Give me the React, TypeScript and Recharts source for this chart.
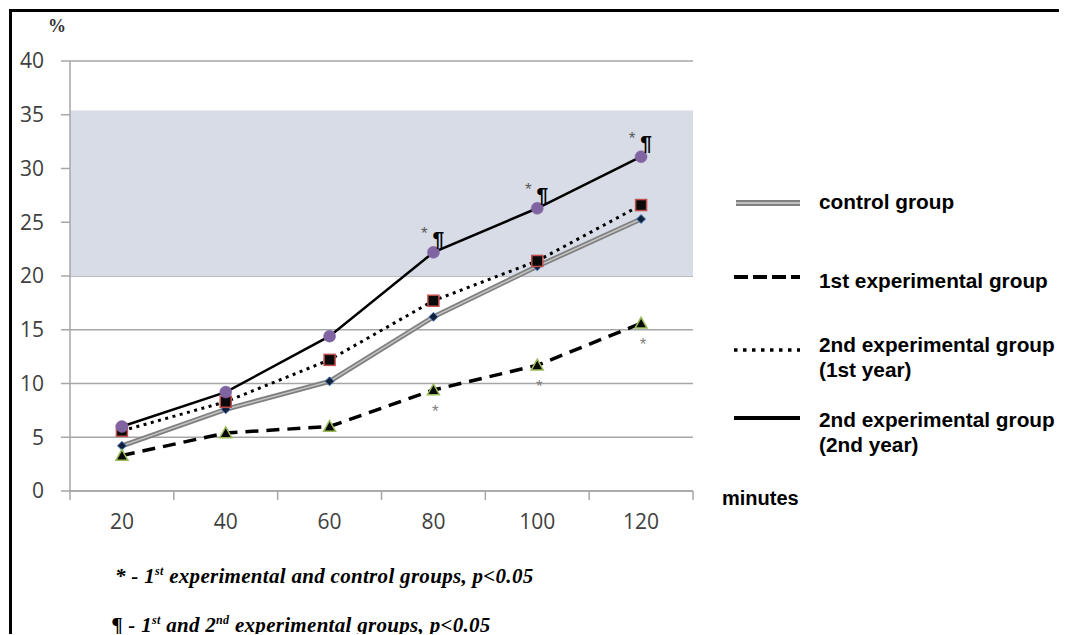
import React from 'react';
import {
  LineChart,
  Line,
  XAxis,
  YAxis,
  CartesianGrid,
  ReferenceArea,
  LabelList,
} from 'recharts';

// ---------- data ----------
const minutes = ['20', '40', '60', '80', '100', '120'];
const controlGroup = [4.2, 7.6, 10.2, 16.2, 20.9, 25.3];
const firstExpGroup = [3.3, 5.4, 6.0, 9.4, 11.7, 15.6];
const secondExpYear1 = [5.6, 8.3, 12.2, 17.7, 21.4, 26.6];
const secondExpYear2 = [6.0, 9.2, 14.4, 22.2, 26.3, 31.1];
// significance marks
const sigFirstVsControl = ['', '', '', '*', '*', '*'];
const sigFirstVsSecond = ['', '', '', '¶', '¶', '¶'];
const yTicks = [0, 5, 10, 15, 20, 25, 30, 35, 40];
const bandFrom = 20;
const bandTo = 35.4;

const legendLabels = [
  ['control group'],
  ['1st experimental group'],
  ['2nd experimental group', '(1st year)'],
  ['2nd experimental group', '(2nd year)'],
];

const chartData = minutes.map((m, i) => ({
  minute: m,
  control: controlGroup[i],
  exp1: firstExpGroup[i],
  exp2y1: secondExpYear1[i],
  exp2y2: secondExpYear2[i],
  sigA: sigFirstVsControl[i],
  sigB: sigFirstVsSecond[i],
}));

// ---------- styles ----------
const GRID = '#a6a6a6';
const TICK_FONT = "'Open Sans', 'DejaVu Sans', sans-serif";
const LEGEND_FONT = "'Liberation Sans', Arial, sans-serif";
const SERIF = "'Liberation Serif', 'Times New Roman', serif";

// ---------- markers ----------
const Diamond = (p: any) => {
  const { cx, cy } = p;
  if (cx == null || cy == null) return null;
  const r = 4.5;
  return (
    <polygon
      points={`${cx},${cy - r} ${cx + r},${cy} ${cx},${cy + r} ${cx - r},${cy}`}
      fill="#14213d"
      stroke="#4f81bd"
      strokeWidth={1}
    />
  );
};

const Square = (p: any) => {
  const { cx, cy } = p;
  if (cx == null || cy == null) return null;
  const s = 11;
  return (
    <rect
      x={cx - s / 2}
      y={cy - s / 2}
      width={s}
      height={s}
      fill="#0a0a0a"
      stroke="#c0504d"
      strokeWidth={1.5}
    />
  );
};

const Circle = (p: any) => {
  const { cx, cy } = p;
  if (cx == null || cy == null) return null;
  return <circle cx={cx} cy={cy} r={6} fill="#8064a2" stroke="#8064a2" strokeWidth={0.5} />;
};

const Triangle = (p: any) => {
  const { cx, cy } = p;
  if (cx == null || cy == null) return null;
  const w = 6, h = 6;
  return (
    <polygon
      points={`${cx},${cy - h} ${cx + w},${cy + h * 0.8} ${cx - w},${cy + h * 0.8}`}
      fill="#0a0a0a"
      stroke="#9bbb59"
      strokeWidth={1.5}
    />
  );
};

// ---------- ticks ----------
const XTick = (props: any) => {
  const { x, y, payload, index, visibleTicksCount } = props;
  const off = payload?.offset ?? 0;
  const y0 = y - 23;
  const last = index === (visibleTicksCount ?? minutes.length) - 1;
  return (
    <g>
      <line x1={x - off} x2={x - off} y1={y0} y2={y0 + 9} stroke={GRID} strokeWidth={1.5} />
      {last && (
        <line x1={x + off} x2={x + off} y1={y0} y2={y0 + 9} stroke={GRID} strokeWidth={1.5} />
      )}
      <text
        x={x}
        y={y}
        dy="0.71em"
        textAnchor="middle"
        fill="#404040"
        fontSize={21}
        fontFamily={TICK_FONT}
      >
        {payload.value}
      </text>
    </g>
  );
};

const SigAbove = (props: any) => {
  const { x, y, value } = props;
  if (!value) return null;
  return (
    <g>
      <text x={x - 9} y={y - 19} dy="0.35em" textAnchor="middle" fill="#595959" fontSize={17} fontFamily={LEGEND_FONT}>
        *
      </text>
      <text x={x + 5} y={y - 14} dy="0.35em" textAnchor="middle" fill="#000" fontSize={21} fontWeight="bold" fontFamily={LEGEND_FONT}>
        {value}
      </text>
    </g>
  );
};

const SigBelow = (props: any) => {
  const { x, y, value } = props;
  if (!value) return null;
  return (
    <text x={x + 2} y={y + 21} dy="0.35em" textAnchor="middle" fill="#7f7f7f" fontSize={17} fontFamily={LEGEND_FONT}>
      {value}
    </text>
  );
};

const MinutesLabel = (props: any) => {
  const vb = props.viewBox || {};
  return (
    <text
      x={vb.x + vb.width + 29}
      y={vb.y + 7}
      dy="0.35em"
      textAnchor="start"
      fontSize={20}
      fontWeight="bold"
      fontFamily={LEGEND_FONT}
      fill="#000"
    >
      minutes
    </text>
  );
};

// ---------- legend ----------
const LegendSample = ({ kind }: { kind: number }) => (
  <svg width={68} height={12} style={{ display: 'block' }}>
    {kind === 0 && (
      <>
        <line x1={2} x2={66} y1={6} y2={6} stroke="#808080" strokeWidth={6} />
        <line x1={2} x2={66} y1={6} y2={6} stroke="#d4d4d4" strokeWidth={1.5} />
      </>
    )}
    {kind === 1 && (
      <line x1={0} x2={66} y1={6} y2={6} stroke="#000" strokeWidth={4} strokeDasharray="14 5" />
    )}
    {kind === 2 && (
      <line x1={0} x2={66} y1={6} y2={6} stroke="#000" strokeWidth={3.5} strokeDasharray="3.5 5.5" />
    )}
    {kind === 3 && <line x1={0} x2={66} y1={6} y2={6} stroke="#000" strokeWidth={4} />}
  </svg>
);

const legendRowTop = [181, 260, 324, 399];
const legendLineOffset = [8, 3, 12, 5];

const CustomLegend = () => (
  <>
    {legendLabels.map((lines, i) => (
      <div
        key={i}
        style={{ position: 'absolute', left: 0, top: legendRowTop[i], width: 340 }}
      >
        <div style={{ position: 'absolute', left: 726, top: legendLineOffset[i] }}>
          <LegendSample kind={i} />
        </div>
        <div
          style={{
            position: 'absolute',
            left: 811,
            top: 0,
            fontFamily: LEGEND_FONT,
            fontWeight: 'bold',
            fontSize: 20.8,
            lineHeight: '25px',
            whiteSpace: 'nowrap',
            color: '#000',
          }}
        >
          {lines.map((l, j) => (
            <div key={j}>{l}</div>
          ))}
        </div>
      </div>
    ))}
  </>
);

const footStyle: React.CSSProperties = {
  position: 'absolute',
  fontFamily: SERIF,
  fontWeight: 'bold',
  fontStyle: 'italic',
  fontSize: 21,
  letterSpacing: 0.3,
  lineHeight: '24px',
  whiteSpace: 'nowrap',
  color: '#000',
};
const supStyle: React.CSSProperties = { fontSize: 12, lineHeight: 0 };

export default function App() {
  return (
    <>
      <style>{'html{overflow:hidden}'}</style>
      <div
        style={{
          position: 'relative',
          left: 1,
          top: 1,
          width: 1058,
          height: 626,
          borderTop: '3px solid #000',
          borderLeft: '3px solid #000',
          boxSizing: 'border-box',
        }}
      >
        <div style={{ position: 'absolute', left: -4, top: -4, width: 1059, height: 627 }}>
          <LineChart
            width={1051}
            height={545}
            data={chartData}
            margin={{ top: 53, right: 366, left: 0, bottom: 22 }}
          >
            <ReferenceArea
              y1={bandFrom}
              y2={bandTo}
              fill="#d7dce6"
              fillOpacity={1}
              stroke="none"
              ifOverflow="hidden"
            />
            <CartesianGrid vertical={false} stroke={GRID} strokeWidth={1.5} />
            <XAxis
              dataKey="minute"
              scale="band"
              height={40}
              tickSize={9}
              tickMargin={14}
              tickLine={false}
              axisLine={{ stroke: GRID, strokeWidth: 1.5 }}
              tick={<XTick />}
              interval={0}
              label={<MinutesLabel />}
            />
            <YAxis
              domain={[0, 40]}
              ticks={yTicks}
              width={62}
              tickSize={9}
              tickMargin={17}
              axisLine={{ stroke: GRID, strokeWidth: 1.5 }}
              tickLine={{ stroke: GRID, strokeWidth: 1.5 }}
              tick={{ fill: '#404040', fontSize: 21, fontFamily: TICK_FONT }}
              interval={0}
            />
            <Line
              dataKey="control"
              stroke="#808080"
              strokeWidth={5}
              dot={false}
              activeDot={false}
              isAnimationActive={false}
            />
            <Line
              dataKey="control"
              stroke="#c4c4c4"
              strokeWidth={1.5}
              dot={<Diamond />}
              activeDot={false}
              isAnimationActive={false}
            />
            <Line
              dataKey="exp1"
              stroke="#000"
              strokeWidth={3.5}
              strokeDasharray="13 8"
              dot={<Triangle />}
              activeDot={false}
              isAnimationActive={false}
            >
              <LabelList dataKey="sigA" content={<SigBelow />} />
            </Line>
            <Line
              dataKey="exp2y1"
              stroke="#000"
              strokeWidth={3}
              strokeDasharray="3 4.5"
              dot={<Square />}
              activeDot={false}
              isAnimationActive={false}
            />
            <Line
              dataKey="exp2y2"
              stroke="#000"
              strokeWidth={2.5}
              dot={<Circle />}
              activeDot={false}
              isAnimationActive={false}
            >
              <LabelList dataKey="sigB" content={<SigAbove />} />
            </Line>
          </LineChart>
          <div
            style={{
              position: 'absolute',
              left: 40,
              top: 8,
              fontFamily: SERIF,
              fontWeight: 'bold',
              fontSize: 18,
              color: '#333',
            }}
          >
            %
          </div>
          <CustomLegend />
          <div style={{ ...footStyle, left: 107, top: 556 }}>
            * - 1<sup style={supStyle}>st</sup> experimental and control groups, p&lt;0.05
          </div>
          <div style={{ ...footStyle, left: 104, top: 605 }}>
            ¶ - 1<sup style={supStyle}>st</sup> and 2<sup style={supStyle}>nd</sup> experimental groups, p&lt;0.05
          </div>
        </div>
      </div>
    </>
  );
}
